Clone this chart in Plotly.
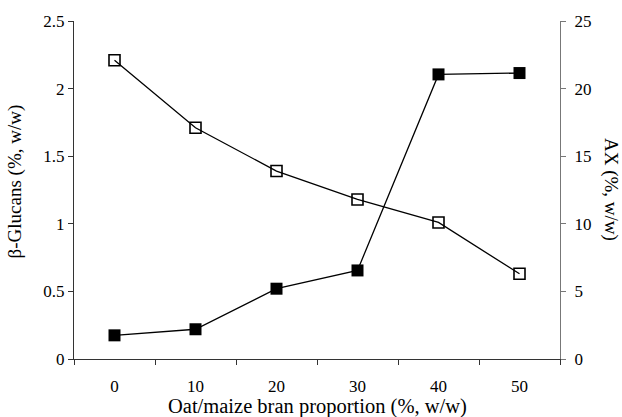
import plotly.graph_objects as go

categories = ["0", "10", "20", "30", "40", "50"]
beta_glucans = [2.21, 1.71, 1.39, 1.18, 1.01, 0.63]
ax_values = [1.75, 2.2, 5.2, 6.55, 21.05, 21.15]
y1_ticks = [0, 0.5, 1, 1.5, 2, 2.5]
y1_labels = ["0", "0.5", "1", "1.5", "2", "2.5"]
y2_ticks = [0, 5, 10, 15, 20, 25]

FONT = "Liberation Serif, Times New Roman, serif"

fig = go.Figure()
fig.add_trace(go.Scatter(
    x=categories, y=beta_glucans, mode="lines+markers", yaxis="y",
    line=dict(color="black", width=1.3),
    marker=dict(symbol="square-open", size=11, color="black", line=dict(width=1.6)),
    showlegend=False))
fig.add_trace(go.Scatter(
    x=categories, y=ax_values, mode="lines+markers", yaxis="y2",
    line=dict(color="black", width=1.3),
    marker=dict(symbol="square", size=12, color="black"),
    showlegend=False))

fig.update_layout(
    width=622, height=417,
    margin=dict(l=74, r=62, t=19, b=58),
    plot_bgcolor="white", paper_bgcolor="white",
    font=dict(family=FONT, size=17, color="black"),
    xaxis=dict(type="category", range=[-0.5, 5.5], tickson="boundaries",
               ticks="outside", ticklen=5, tickcolor="#333", tickwidth=1,
               showline=True, linecolor="#333", linewidth=1, showgrid=False,
               zeroline=False, ticklabelstandoff=12),
    yaxis=dict(range=[0, 2.5], tickvals=y1_ticks, ticktext=y1_labels,
               ticks="outside", ticklen=5, tickcolor="#333", tickwidth=1,
               showline=True, linecolor="#333", linewidth=1, showgrid=False,
               zeroline=False),
    yaxis2=dict(range=[0, 25], tickvals=y2_ticks, overlaying="y", side="right",
                ticks="outside", ticklen=5, tickcolor="#777", tickwidth=1,
                showline=True, linecolor="#777", linewidth=1, showgrid=False,
                zeroline=False, ticklabelstandoff=5),
    annotations=[
        dict(text="Oat/maize bran proportion (%, w/w)", xref="paper", yref="paper",
             x=0.501, y=-0.14, showarrow=False, font=dict(size=20.5),
             xanchor="center", yanchor="middle"),
        dict(text="β-Glucans (%, w/w)", xref="paper", yref="paper",
             x=-0.121, y=0.526, showarrow=False, font=dict(size=19),
             textangle=-90, xanchor="center", yanchor="middle"),
        dict(text="AX (%, w/w)", xref="paper", yref="paper",
             x=1.105, y=0.503, showarrow=False, font=dict(size=19),
             textangle=90, xanchor="center", yanchor="middle"),
    ],
)

fig.write_html(
    "out.html",
    config={"displayModeBar": False},
    post_script="document.body.style.margin='0';document.body.style.padding='0';",
)
